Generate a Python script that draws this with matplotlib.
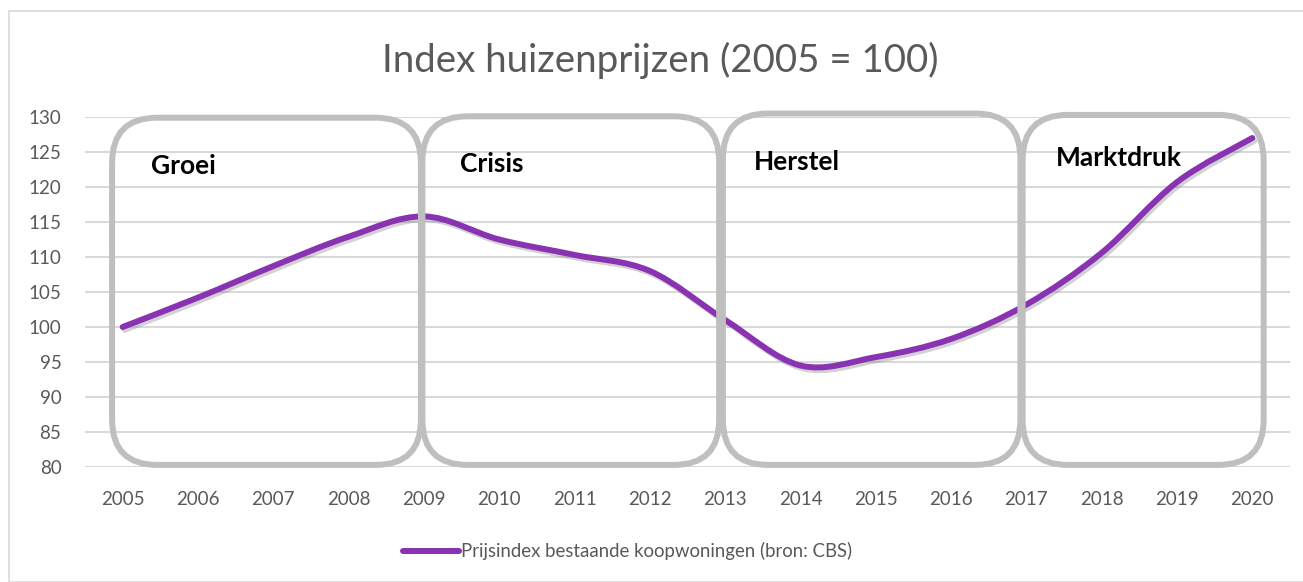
import matplotlib.pyplot as plt
import matplotlib.patheffects as pe
from matplotlib.path import Path
from matplotlib.patches import PathPatch, FancyBboxPatch, Rectangle
from matplotlib.lines import Line2D

plt.rcParams['font.family'] = ['Lato', 'DejaVu Sans']

# Data
years = [2005, 2006, 2007, 2008, 2009, 2010, 2011, 2012,
         2013, 2014, 2015, 2016, 2017, 2018, 2019, 2020]
index = [100.0, 104.2, 108.7, 112.9, 115.8, 112.5, 110.3, 108.0,
         101.0, 94.5, 95.7, 98.3, 103.2, 110.6, 120.7, 127.0]

phases = ['Groei', 'Crisis', 'Herstel', 'Marktdruk']
y_ticks = list(range(80, 131, 5))

title = 'Index huizenprijzen (2005 = 100)'
legend_label = 'Prijsindex bestaande koopwoningen (bron: CBS)'

purple = '#8A33B2'
box_gray = '#BFBFBF'
grid_gray = '#D9D9D9'
text_gray = '#595959'

fig = plt.figure(figsize=(13.03, 5.82), dpi=100)
ax = fig.add_axes([85 / 1303, 115 / 582, 1205 / 1303, 350 / 582])

ax.set_xlim(years[0] - 0.5, years[-1] + 0.5)
ax.set_ylim(80, 130)
ax.set_yticks(y_ticks)
ax.set_xticks(years)
ax.tick_params(length=0, labelsize=13.5, labelcolor=text_gray)
ax.tick_params(axis='y', pad=17)
ax.tick_params(axis='x', pad=17)
ax.grid(axis='y', color=grid_gray, linewidth=1.5)
ax.set_axisbelow(True)
for s in ax.spines.values():
    s.set_visible(False)

# smooth line (Excel style bezier through the points)
pts = list(zip(years, index))
verts = [pts[0]]
codes = [Path.MOVETO]
n = len(pts)
for i in range(n - 1):
    p0 = pts[max(i - 1, 0)]
    p1 = pts[i]
    p2 = pts[i + 1]
    p3 = pts[min(i + 2, n - 1)]
    c1 = (p1[0] + (p2[0] - p0[0]) / 6, p1[1] + (p2[1] - p0[1]) / 6)
    c2 = (p2[0] - (p3[0] - p1[0]) / 6, p2[1] - (p3[1] - p1[1]) / 6)
    verts += [c1, c2, p2]
    codes += [Path.CURVE4] * 3
curve = PathPatch(Path(verts, codes), fill=False, edgecolor=purple, lw=4.3,
                  capstyle='round', joinstyle='round', zorder=3)
curve.set_path_effects([pe.SimpleLineShadow(offset=(1.5, -2), shadow_color='gray', alpha=0.35),
                        pe.Normal()])
ax.add_patch(curve)

# phase boxes
boxes = [(2004.86, 2008.96, 80.3, 129.9),
         (2008.98, 2012.92, 80.3, 130.1),
         (2012.97, 2016.92, 80.3, 130.5),
         (2016.95, 2020.15, 80.3, 130.3)]
label_pos = [(2005.37, 123.0), (2009.48, 123.3), (2013.38, 123.6), (2017.39, 124.1)]
aspect = (1205 / 16) / 7.0
for (x0, x1, y0, y1), name, (lx, ly) in zip(boxes, phases, label_pos):
    box = FancyBboxPatch((x0, y0), x1 - x0, y1 - y0,
                         boxstyle='round,pad=0,rounding_size=0.6',
                         mutation_aspect=aspect, fill=False,
                         edgecolor=box_gray, lw=4.3, zorder=4, clip_on=False)
    ax.add_patch(box)
    ax.text(lx, ly, name, fontsize=19, fontweight='bold', color='black',
            va='center', ha='left', zorder=5)

# title
fig.text(0.507, 0.896, title, ha='center', va='center', fontsize=27.7,
         color=text_gray)

# legend
handle = Line2D([], [], color=purple, lw=4.3, solid_capstyle='round')
fig.legend([handle], [legend_label], loc='center', bbox_to_anchor=(0.4815, 0.053),
           frameon=False, fontsize=13.4, labelcolor=text_gray,
           handlelength=3.0, handletextpad=0.1)

# chart outer border
fig.patches.append(Rectangle((9 / 1303, 0), 1.2, (582 - 11) / 582, transform=fig.transFigure,
                             fill=False, edgecolor=grid_gray, lw=1.2))

fig.savefig('out.png', dpi=100)
